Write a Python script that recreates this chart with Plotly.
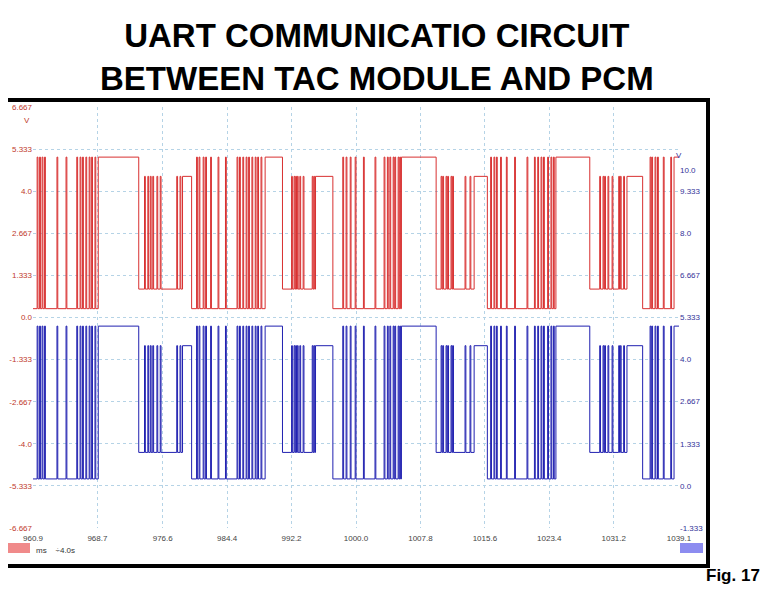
import plotly.graph_objects as go

# frame schedule (ms): kind, start, idle_start, end
frame_kind = ["full", "reduced", "full", "reduced", "full", "reduced", "full", "reduced", "full"]
frame_start = [960.9, 973.7, 980.1, 991.1, 997.2, 1009.7, 1015.9, 1028.3, 1034.7]
frame_idle = [968.8, 979.0, 989.0, 995.1, 1005.5, 1014.3, 1024.2, 1032.8, 1038.5]
frame_end = [973.7, 980.1, 991.1, 997.2, 1009.7, 1015.9, 1028.3, 1034.7, 1039.1]
frame_pulses = [
    [961.4, 961.7, 962.0, 962.3, 963.8, 964.9, 966.2, 966.6, 966.9, 967.3, 967.7, 968.0, 968.4],
    [974.4, 974.8, 975.1, 975.4, 975.9, 976.3, 978.3, 978.7],
    [980.7, 981.0, 981.5, 981.8, 982.4, 983.3, 984.2, 985.6, 985.9, 986.3, 986.7, 987.0, 987.4, 987.8, 988.1, 988.5],
    [992.2, 992.5, 992.7, 992.9, 993.2, 993.6, 994.7, 994.9],
    [998.4, 998.8, 999.3, 999.9, 1000.9, 1002.3, 1003.4, 1003.8, 1004.1, 1004.5, 1004.7, 1005.1, 1005.3],
    [1010.3, 1010.5, 1010.9, 1011.1, 1011.5, 1011.7, 1013.2, 1013.8],
    [1016.3, 1016.7, 1017.0, 1017.5, 1018.2, 1019.2, 1020.7, 1021.6, 1022.0, 1022.4, 1022.7, 1023.2, 1023.6, 1023.9],
    [1029.5, 1029.9, 1030.1, 1030.5, 1031.0, 1031.8, 1032.0, 1032.4],
    [1035.6, 1035.8, 1036.2, 1036.5, 1037.2, 1038.1],
]
pulse_width = 0.1

# levels (V): low/high for full and reduced frames
red_levels = {"full": (0.28, 5.08), "reduced": (0.9, 4.47)}
blue_levels = {"full": (0.22, 5.06), "reduced": (1.06, 4.44)}

x_ticks = [960.9, 968.7, 976.6, 984.4, 992.2, 1000.0, 1007.8, 1015.6, 1023.4, 1031.2, 1039.1]
left_ticks = [6.667, 5.333, 4.0, 2.667, 1.333, 0.0, -1.333, -2.667, -4.0, -5.333, -6.667]
left_labels = ["6.667", "5.333", "4.0", "2.667", "1.333", "0.0", "-1.333", "-2.667", "-4.0", "-5.333", "-6.667"]
right_ticks = [10.0, 9.333, 8.0, 6.667, 5.333, 4.0, 2.667, 1.333, 0.0, -1.333]
right_labels = ["10.0", "9.333", "8.0", "6.667", "5.333", "4.0", "2.667", "1.333", "0.0", "-1.333"]


def build(levels):
    xs, ys = [], []
    for k, s, idle, e, pulses in zip(frame_kind, frame_start, frame_idle, frame_end, frame_pulses):
        lo, hi = levels[k]
        xs.append(s); ys.append(lo)
        for p in pulses:
            xs += [p, p, p + pulse_width, p + pulse_width]
            ys += [lo, hi, hi, lo]
        xs += [idle, idle, e]
        ys += [lo, hi, hi]
    return xs, ys


rx, ry = build(red_levels)
bx, by = build(blue_levels)

fig = go.Figure()
fig.add_trace(go.Scatter(x=rx, y=ry, mode="lines", line=dict(color="#d83030", width=1), yaxis="y"))
fig.add_trace(go.Scatter(x=bx, y=by, mode="lines", line=dict(color="#2020b0", width=1), yaxis="y2"))

grid = "#b5d3e6"
fig.update_layout(
    width=769, height=590, showlegend=False,
    paper_bgcolor="white", plot_bgcolor="white",
    margin=dict(l=25, r=98, t=99, b=70, autoexpand=False),
    font=dict(family="Liberation Sans"),
    xaxis=dict(range=[960.9, 1039.1], tickvals=x_ticks, ticktext=[f"{v:.1f}" for v in x_ticks],
               showgrid=True, gridcolor=grid, griddash="dot", zeroline=False, showline=False,
               tickfont=dict(size=8, color="#444"), ticks="", automargin=False, ticklabelstandoff=4),
    yaxis=dict(range=[-6.667, 6.667], tickvals=left_ticks, ticktext=left_labels,
               showgrid=True, gridcolor=grid, griddash="dot", zeroline=False, showline=False,
               tickfont=dict(size=8, color="#c0392b"), ticks="", automargin=False),
    yaxis2=dict(range=[-1.334, 12.0], overlaying="y", side="right",
                tickvals=right_ticks, ticktext=right_labels,
                showgrid=False, zeroline=False, tickfont=dict(size=8, color="#333399"), ticks="", automargin=False),
)

W, H = 646, 421
# outer frame
fig.add_shape(type="rect", xref="paper", yref="paper", x0=(5 - 33) / W, x1=(708 - 33) / W,
              y0=(528 - 566) / H, y1=(528 - 100) / H,
              line=dict(color="black", width=4), fillcolor="rgba(0,0,0,0)")

ann = [
    dict(text="<b>UART COMMUNICATIO CIRCUIT<br>BETWEEN TAC MODULE AND PCM</b>", x=377, y=57, size=33, color="black"),
    dict(text="<b>Fig. 17</b>", x=733, y=575, size=17, color="black"),
    dict(text="V", x=27, y=120, size=8, color="#c0392b"),
    dict(text="V", x=679, y=155, size=8, color="#333399"),
    dict(text="ms    ÷4.0s", x=55, y=550, size=8, color="#333"),
]
for a in ann:
    fig.add_annotation(text=a["text"], xref="paper", yref="paper",
                       x=(a["x"] - 33) / W, y=(528 - a["y"]) / H,
                       showarrow=False, font=dict(size=a["size"], color=a["color"]), xanchor="center", yanchor="middle")
# badges
for x0, x1, col in [(7, 30, "#f08a8a"), (680, 703, "#8c8cf0")]:
    fig.add_shape(type="rect", xref="paper", yref="paper", x0=(x0 - 33) / W, x1=(x1 - 33) / W,
                  y0=(528 - 553) / H, y1=(528 - 543) / H, line=dict(width=0), fillcolor=col)

fig.write_html("out.html")
